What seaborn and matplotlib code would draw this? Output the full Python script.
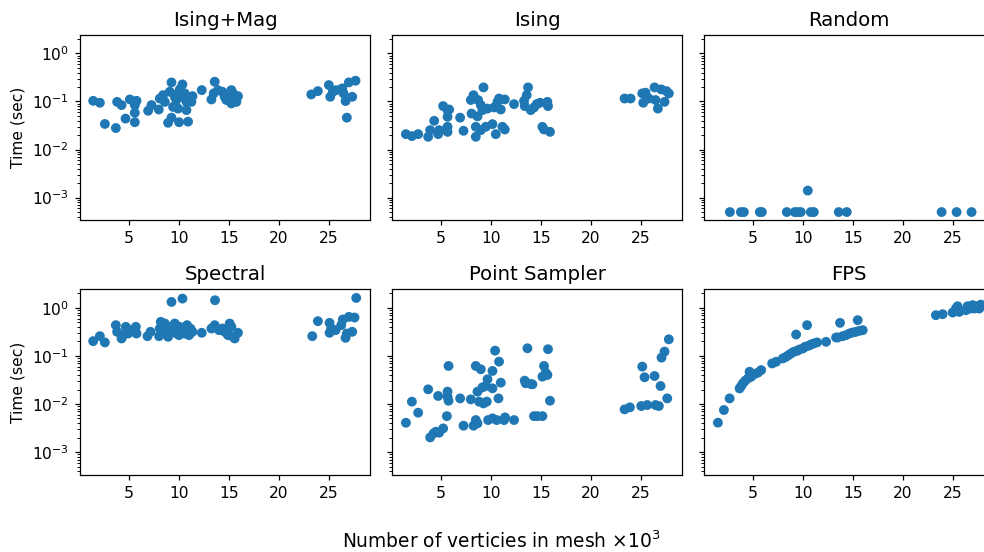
# timing_scatter.py
# Runtime per method vs mesh size, log y axis

import matplotlib
matplotlib.use('Agg')
import matplotlib.pyplot as plt
import seaborn as sns

# mesh size (x10^3 vertices) and time (sec) for each method
ising_mag_x = [1.43, 2.1, 2.6, 3.7, 3.83, 4.27, 4.67, 5.1, 5.77, 5.6, 5.6, 5.6,
               6.93, 7.27, 8.0, 8.1, 8.43, 8.6, 9.27, 9.1, 9.27, 8.93, 9.43, 9.6,
               9.77, 9.93, 10.1, 10.37, 10.43, 10.6, 10.77, 9.93, 10.03, 10.93,
               10.77, 11.27, 11.37, 12.3, 13.27, 13.6, 13.5, 13.93, 14.37, 14.6,
               14.77, 15.27, 15.43, 15.6, 15.27, 15.77, 15.93, 23.27, 23.93,
               25.03, 25.17, 25.43, 25.77, 26.37, 26.5, 26.7, 26.83, 27.03,
               27.37, 27.7]
ising_mag_t = [0.103, 0.094, 0.034, 0.028, 0.098, 0.084, 0.044, 0.110, 0.103,
               0.084, 0.058, 0.037, 0.064, 0.084, 0.068, 0.115, 0.135, 0.098,
               0.249, 0.159, 0.046, 0.036, 0.077, 0.125, 0.107, 0.147, 0.178,
               0.226, 0.125, 0.147, 0.098, 0.071, 0.037, 0.038, 0.066, 0.098,
               0.129, 0.172, 0.110, 0.257, 0.147, 0.172, 0.159, 0.125, 0.107,
               0.172, 0.147, 0.107, 0.091, 0.098, 0.129, 0.140, 0.164, 0.219,
               0.125, 0.159, 0.172, 0.187, 0.147, 0.102, 0.046, 0.249, 0.125,
               0.270]

ising_x = [1.5, 2.1, 2.73, 3.73, 3.93, 4.33, 4.73, 4.83, 5.23, 5.67, 5.83, 5.67,
           5.67, 5.67, 6.93, 7.27, 8.0, 8.27, 8.07, 8.5, 8.5, 8.67, 9.27, 8.73,
           9.0, 9.17, 9.0, 9.5, 9.67, 10.17, 10.33, 10.5, 10.67, 10.83, 11.0,
           11.17, 11.4, 11.4, 12.33, 13.33, 13.6, 13.73, 13.4, 14.0, 14.33,
           14.6, 14.93, 15.17, 15.33, 15.67, 15.73, 15.93, 23.4, 24.0, 25.17,
           25.27, 25.5, 25.83, 26.4, 26.5, 26.73, 27.07, 27.4, 27.6, 27.83]
ising_t = [0.0209, 0.019, 0.0209, 0.0184, 0.0253, 0.0396, 0.0209, 0.0253, 0.080,
           0.066, 0.068, 0.048, 0.0297, 0.0233, 0.046, 0.0245, 0.107, 0.135,
           0.056, 0.0184, 0.0297, 0.049, 0.196, 0.107, 0.084, 0.066, 0.0253,
           0.0297, 0.071, 0.0337, 0.075, 0.0209, 0.098, 0.115, 0.068, 0.0297,
           0.0261, 0.110, 0.088, 0.103, 0.135, 0.196, 0.080, 0.066, 0.075,
           0.088, 0.094, 0.0297, 0.0261, 0.098, 0.080, 0.0233, 0.115, 0.115,
           0.147, 0.094, 0.152, 0.115, 0.196, 0.107, 0.071, 0.178, 0.098,
           0.164, 0.147]

random_x = [2.7, 3.8, 4.1, 5.7, 5.9, 8.4, 9.2, 9.5, 9.8, 10.5, 10.8, 11.1, 13.6,
            14.4, 23.9, 25.4, 26.9]
random_t = [5e-4, 5e-4, 5e-4, 5e-4, 5e-4, 5e-4, 5e-4, 5e-4, 5e-4, 1.4e-3, 5e-4,
            5e-4, 5e-4, 5e-4, 5e-4, 5e-4, 5e-4]

spectral_x = [1.43, 2.1, 2.6, 3.7, 3.83, 4.27, 4.43, 4.7, 4.93, 5.27, 5.7, 5.77,
              5.6, 6.87, 7.17, 8.03, 8.1, 8.2, 8.6, 8.5, 8.93, 9.27, 9.1, 9.43,
              9.6, 9.77, 10.03, 10.1, 10.37, 10.43, 10.6, 10.83, 11.03, 11.17,
              11.37, 12.3, 13.27, 13.6, 13.63, 14.03, 14.37, 14.6, 14.93, 15.1,
              15.27, 15.43, 15.6, 15.93, 23.37, 23.93, 25.1, 25.1, 25.27, 25.7,
              26.27, 26.43, 26.7, 26.83, 27.03, 27.37, 27.6, 27.77]
spectral_t = [0.203, 0.258, 0.191, 0.437, 0.318, 0.231, 0.271, 0.403, 0.293,
              0.344, 0.403, 0.293, 0.318, 0.258, 0.318, 0.258, 0.372, 0.512,
              0.473, 0.318, 0.25, 1.33, 0.403, 0.344, 0.473, 0.293, 0.271, 0.403,
              1.56, 0.344, 0.293, 0.437, 0.271, 0.372, 0.318, 0.303, 0.372,
              0.437, 1.44, 0.344, 0.372, 0.318, 0.271, 0.473, 0.403, 0.25,
              0.231, 0.303, 0.258, 0.529, 0.488, 0.303, 0.372, 0.344, 0.437,
              0.573, 0.238, 0.293, 0.65, 0.318, 0.63, 1.61]

sampler_x = [1.5, 2.1, 2.73, 3.73, 3.93, 4.27, 4.5, 4.73, 4.83, 5.23, 5.6, 5.67,
             5.67, 5.77, 5.77, 6.93, 7.27, 8.0, 8.27, 8.5, 8.5, 8.67, 8.67, 8.83,
             9.0, 9.17, 9.27, 9.5, 9.6, 9.67, 9.73, 10.17, 10.17, 10.17, 10.43,
             10.6, 10.77, 10.83, 11.0, 11.33, 11.43, 12.33, 13.4, 13.5, 13.67,
             14.0, 14.17, 14.33, 14.67, 15.17, 15.17, 15.33, 15.5, 15.73, 15.93,
             15.67, 23.4, 23.93, 25.07, 25.17, 25.4, 25.67, 26.4, 26.5, 26.83,
             27.0, 27.1, 27.4, 27.67, 27.83]
sampler_t = [0.00408, 0.0112, 0.0066, 0.0202, 0.00202, 0.00245, 0.00265, 0.0147,
             0.00253, 0.00311, 0.0056, 0.0181, 0.0142, 0.0619, 0.0117, 0.0131,
             0.00354, 0.0125, 0.00354, 0.0619, 0.00464, 0.0181, 0.00396, 0.0112,
             0.0528, 0.0222, 0.0103, 0.0237, 0.0112, 0.0327, 0.00464, 0.0212,
             0.0487, 0.00503, 0.129, 0.00464, 0.0131, 0.0762, 0.0278, 0.00464,
             0.00527, 0.00464, 0.0306, 0.027, 0.1445, 0.0261, 0.0257, 0.0056,
             0.0056, 0.0056, 0.0371, 0.0619, 0.045, 0.138, 0.0117, 0.0402,
             0.00774, 0.00853, 0.00908, 0.06, 0.036, 0.00953, 0.0383, 0.00953,
             0.00908, 0.0237, 0.0923, 0.123, 0.0131, 0.222]

fps_x = [1.5, 2.1, 2.67, 3.67, 3.83, 4.0, 4.23, 4.5, 4.67, 4.83, 5.17, 5.5, 5.83,
         6.93, 7.33, 8.0, 8.33, 8.57, 8.83, 9.1, 9.33, 9.43, 9.67, 10.0, 10.23,
         10.43, 10.57, 10.83, 11.1, 11.43, 12.33, 13.33, 13.5, 13.73, 14.0,
         14.33, 14.67, 15.0, 15.33, 15.5, 15.67, 16.0, 23.33, 24.0, 25.0, 25.33,
         25.5, 25.67, 26.33, 26.5, 26.77, 27.0, 27.17, 27.43, 27.67, 27.83]
fps_t = [0.00409, 0.0075, 0.0131, 0.0211, 0.0236, 0.0269, 0.0305, 0.0341, 0.0469,
         0.0369, 0.042, 0.0448, 0.0508, 0.0698, 0.0757, 0.0887, 0.0961, 0.104,
         0.113, 0.122, 0.279, 0.128, 0.136, 0.143, 0.155, 0.437, 0.163, 0.173,
         0.182, 0.191, 0.197, 0.242, 0.242, 0.488, 0.258, 0.271, 0.293, 0.308,
         0.318, 0.555, 0.333, 0.344, 0.705, 0.739, 0.80, 0.968, 1.08, 0.826,
         0.895, 1.08, 0.968, 1.14, 0.968, 1.08, 0.968, 1.17]

titles = ["Ising+Mag", "Ising", "Random", "Spectral", "Point Sampler", "FPS"]
xs = [ising_mag_x, ising_x, random_x, spectral_x, sampler_x, fps_x]
ts = [ising_mag_t, ising_t, random_t, spectral_t, sampler_t, fps_t]

sns.set_style("ticks", {"axes.edgecolor": "black", "text.color": "black",
                        "xtick.color": "black", "ytick.color": "black",
                        "axes.labelcolor": "black"})
plt.rcParams['font.family'] = ['DejaVu Sans']

fig, axes = plt.subplots(2, 3, figsize=(984 / 112, 552 / 112), dpi=112,
                         sharex=True, sharey=True)
fig.subplots_adjust(left=0.0813, right=1.0102, top=0.9366, bottom=0.1395,
                    wspace=0.0759, hspace=0.372)

for ax, title, x, t in zip(axes.flat, titles, xs, ts):
    sns.scatterplot(x=x, y=t, ax=ax, color="#1f77b4", s=40, linewidth=0,
                    edgecolor="none")
    ax.set_title(title, fontsize=12.7)
    ax.tick_params(labelbottom=True, labelsize=10)
    ax.set_yscale('log')

for ax in axes[:, 0]:
    ax.set_ylabel("Time (sec)", fontsize=10)

fig.text(0.509, 0.0072, r"Number of verticies in mesh $\times10^3$",
         ha='center', va='baseline', fontsize=12)

plt.savefig("out.png", dpi=112)
